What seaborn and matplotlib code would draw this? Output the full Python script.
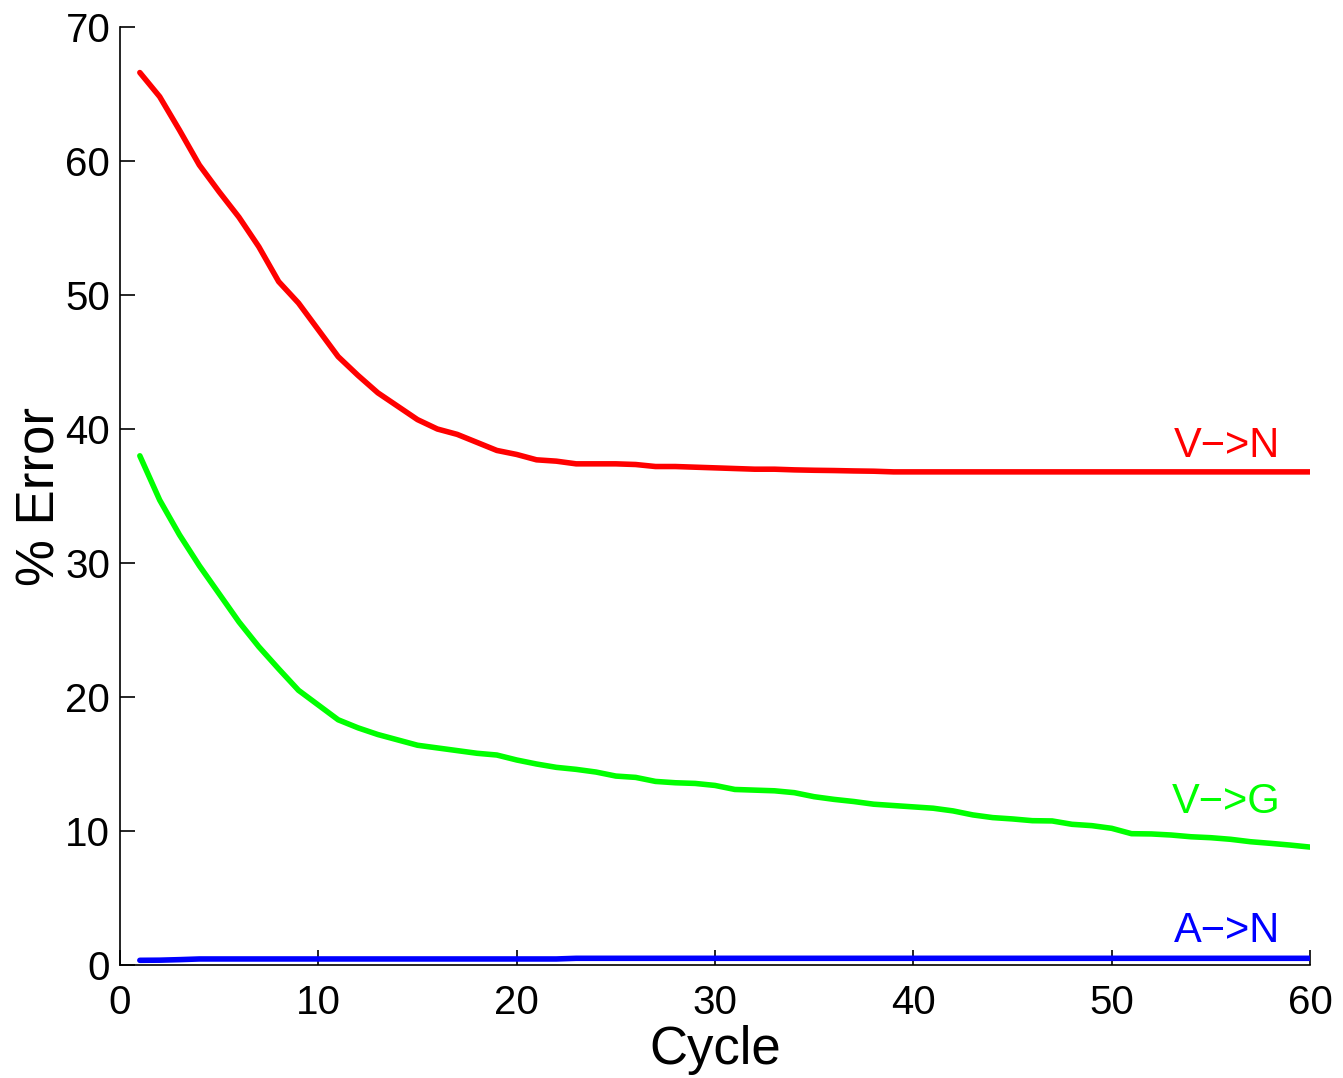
import numpy as np
import pandas as pd
import matplotlib
matplotlib.use("Agg")
import matplotlib.pyplot as plt
import seaborn as sns

cycles = list(range(1, 61))

v_to_n = [66.6, 64.8, 62.3, 59.7, 57.7, 55.8, 53.6, 51.0, 49.4, 47.4,
          45.4, 44.0, 42.7, 41.7, 40.7, 40.0, 39.6, 39.0, 38.4, 38.1,
          37.7, 37.6, 37.4, 37.4, 37.4, 37.35, 37.2, 37.2, 37.15, 37.1,
          37.05, 37.0, 37.0, 36.95, 36.92, 36.9, 36.87, 36.85, 36.8, 36.8,
          36.8, 36.8, 36.8, 36.8, 36.8, 36.8, 36.8, 36.8, 36.8, 36.8,
          36.8, 36.8, 36.8, 36.8, 36.8, 36.8, 36.8, 36.8, 36.8, 36.8]

v_to_g = [38.0, 34.7, 32.1, 29.8, 27.7, 25.6, 23.75, 22.1, 20.5, 19.4,
          18.3, 17.7, 17.2, 16.8, 16.4, 16.2, 16.0, 15.8, 15.67, 15.3,
          15.0, 14.75, 14.6, 14.4, 14.1, 14.0, 13.7, 13.6, 13.55, 13.4,
          13.1, 13.05, 13.0, 12.86, 12.56, 12.36, 12.2, 12.0, 11.9, 11.8,
          11.7, 11.5, 11.2, 11.0, 10.9, 10.77, 10.75, 10.5, 10.4, 10.2,
          9.8, 9.78, 9.7, 9.57, 9.5, 9.38, 9.2, 9.08, 8.95, 8.8]

a_to_n = [0.35, 0.36, 0.4, 0.45, 0.45, 0.45, 0.45, 0.45, 0.45, 0.45,
          0.45, 0.45, 0.45, 0.45, 0.45, 0.45, 0.45, 0.45, 0.45, 0.45,
          0.45, 0.45, 0.5, 0.5, 0.5, 0.5, 0.5, 0.5, 0.5, 0.5,
          0.5, 0.5, 0.5, 0.5, 0.5, 0.5, 0.5, 0.5, 0.5, 0.5,
          0.5, 0.5, 0.5, 0.5, 0.5, 0.5, 0.5, 0.5, 0.5, 0.5,
          0.5, 0.5, 0.5, 0.5, 0.5, 0.5, 0.5, 0.5, 0.5, 0.5]

series_names = ["V\u2212>N", "V\u2212>G", "A\u2212>N"]
series_colors = ["#ff0000", "#00ff00", "#0000ff"]
label_y = [38.7, 12.2, 2.5]

x_ticks = [0, 10, 20, 30, 40, 50, 60]
y_ticks = [0, 10, 20, 30, 40, 50, 60, 70]

df = pd.DataFrame({
    "Cycle": cycles * 3,
    "Error": v_to_n + v_to_g + a_to_n,
    "Series": [series_names[0]] * 60 + [series_names[1]] * 60 + [series_names[2]] * 60,
})

sns.set_theme(style="white")
plt.rcParams["font.family"] = ["Liberation Sans", "DejaVu Sans"]
plt.rcParams["text.color"] = "black"
plt.rcParams["axes.labelcolor"] = "black"

fig = plt.figure(figsize=(13.43, 10.78), dpi=100)
ax = fig.add_axes([120 / 1343, 1 - 965 / 1078, 1190 / 1343, 938 / 1078])

sns.lineplot(data=df, x="Cycle", y="Error", hue="Series",
             palette=dict(zip(series_names, series_colors)),
             linewidth=4.0, legend=False, ax=ax)

for name, col, ly in zip(series_names, series_colors, label_y):
    ax.text(58.5, ly, name, color=col, fontsize=30, ha="right", va="center")

ax.set_xlim(0, 60)
ax.set_ylim(0, 70)
ax.set_xticks(x_ticks)
ax.set_yticks(y_ticks)
ax.tick_params(axis="both", which="major", direction="in", length=11, width=1.2,
               labelsize=29, colors="black", bottom=True, left=True,
               top=False, right=False)
ax.tick_params(axis="x", pad=14)
ax.tick_params(axis="y", pad=7)
for s in ["top", "right"]:
    ax.spines[s].set_visible(False)
for s in ["left", "bottom"]:
    ax.spines[s].set_color("black")
    ax.spines[s].set_linewidth(1.2)

ax.set_xlabel("Cycle", fontsize=38, labelpad=2, color="black")
ax.set_ylabel("% Error", fontsize=38, labelpad=0, color="black")

fig.savefig("out.png", dpi=100, facecolor="white")
